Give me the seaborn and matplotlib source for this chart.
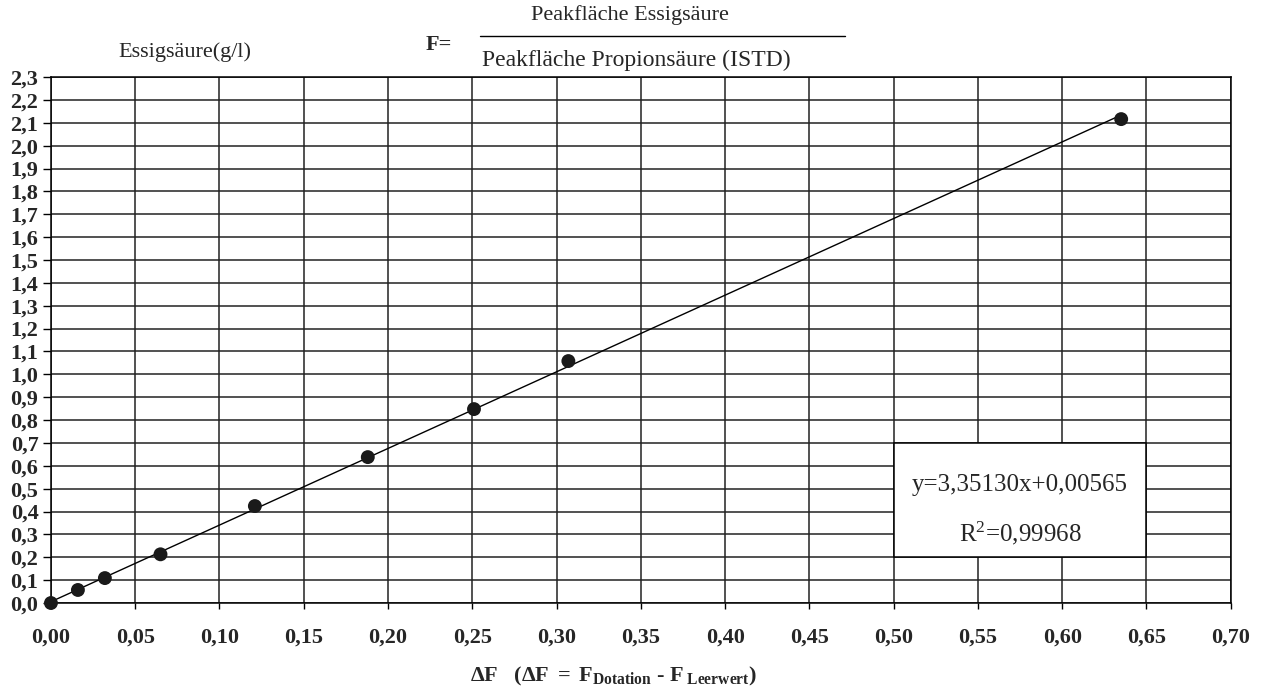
import matplotlib
matplotlib.use("Agg")
import matplotlib.pyplot as plt
import seaborn as sns
import numpy as np
import pandas as pd

# Kalibrierdaten Essigsäure
delta_f = [0.0, 0.016, 0.032, 0.065, 0.121, 0.188, 0.251, 0.307, 0.635]
essig = [0.0, 0.057, 0.109, 0.213, 0.424, 0.638, 0.848, 1.058, 2.116]
slope = 3.35130
intercept = 0.00565
r2 = 0.99968

x_ticks = np.arange(0, 0.701, 0.05)
y_ticks = np.arange(0, 2.301, 0.1)

sns.set_theme(style="white")
plt.rcParams['font.family'] = ['Liberation Serif', 'DejaVu Serif']
plt.rcParams['mathtext.fontset'] = 'custom'
plt.rcParams['mathtext.rm'] = 'Liberation Serif'
plt.rcParams['mathtext.bf'] = 'Liberation Serif:bold'
plt.rcParams['mathtext.it'] = 'Liberation Serif:italic'

df = pd.DataFrame({"dF": delta_f, "c": essig})
fit_x = [0.0, max(delta_f)]
fit = pd.DataFrame({"dF": fit_x, "c": [slope * v + intercept for v in fit_x]})

fig = plt.figure(figsize=(12.61, 6.89), dpi=100)
ax = fig.add_axes([0.0404, 0.1248, 0.9356, 0.7634])

sns.lineplot(data=fit, x="dF", y="c", color="black", linewidth=1.0, ax=ax, zorder=3)
sns.scatterplot(data=df, x="dF", y="c", color="#1a1a1a", s=100, edgecolor="none", ax=ax,
                zorder=4, clip_on=False)

ax.set_xlim(0, 0.70)
ax.set_ylim(0, 2.3)
ax.set_xticks(x_ticks)
ax.set_yticks(y_ticks)
ax.set_xticklabels([f"{v:.2f}".replace(".", ",") for v in x_ticks], fontweight="bold", fontsize=16)
ax.set_yticklabels([f"{v:.1f}".replace(".", ",") for v in y_ticks], fontweight="bold", fontsize=16)
ax.tick_params(axis="y", direction="out", length=6, width=1, color="black", left=True, pad=3)
ax.tick_params(axis="x", direction="out", length=4, width=1, color="black", bottom=True, pad=14)
ax.grid(True, color="#222222", linewidth=1.1)
ax.set_axisbelow(True)
for s in ax.spines.values():
    s.set_color("black")
    s.set_linewidth(1.1)
ax.set_xlabel("")
ax.set_ylabel("")

# Gleichungsbox
ax.add_patch(plt.Rectangle((0.50, 0.20), 0.15, 0.50, facecolor="white", edgecolor="black",
                           linewidth=1.1, zorder=2.5))
ax.text(0.575, 0.515, "y=3,35130x+0,00565", ha="center", va="center", fontsize=18, zorder=5)
ax.text(0.575, 0.305, r"R$^2$=" + f"{r2:.5f}".replace(".", ","), ha="center", va="center",
        fontsize=18, zorder=5)

# Achsentitel
fig.text(118 / 1261, 1 - 52 / 689, "Essigsäure(g/l)", fontsize=16, va="center", ha="left")
fig.text(452 / 1261, 1 - 45 / 689, "F=", fontsize=16, fontweight="bold", va="center", ha="right")
fig.text(630 / 1261, 1 - 15 / 689, "Peakfläche Essigsäure", fontsize=16, va="center", ha="center")
fig.text(482 / 1261, 1 - 60 / 689, "Peakfläche Propionsäure (ISTD)", fontsize=17, va="center", ha="left")
fig.add_artist(plt.Line2D([480 / 1261, 845 / 1261], [1 - 36 / 689, 1 - 36 / 689], color="black", linewidth=1))

fig.text(614 / 1261, 1 - 676 / 689,
         r"$\mathbf{\Delta F\quad (\Delta F\ =\ F_{Dotation}}$ - $\mathbf{F_{\ Leerwert})}$",
         fontsize=16, fontweight="bold", ha="center", va="center")

fig.savefig("out.png", dpi=100)
